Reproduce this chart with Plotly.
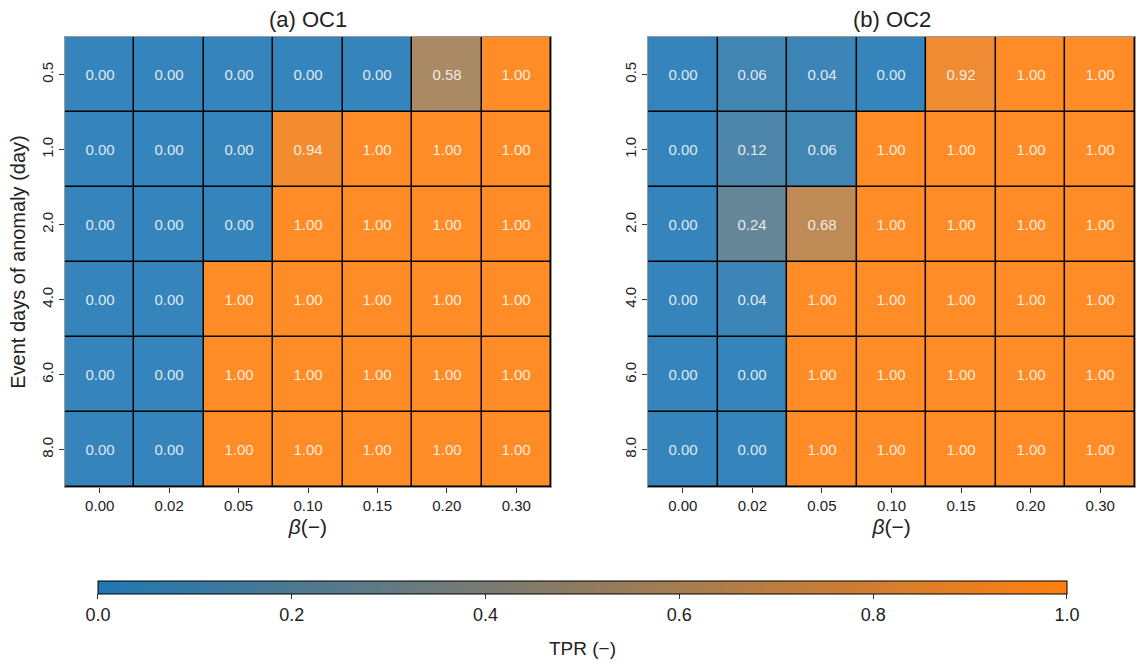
import plotly.graph_objects as go
from plotly.subplots import make_subplots

betas = ["0.00", "0.02", "0.05", "0.10", "0.15", "0.20", "0.30"]
days = ["0.5", "1.0", "2.0", "4.0", "6.0", "8.0"]

tpr_oc1 = [
    [0.00, 0.00, 0.00, 0.00, 0.00, 0.58, 1.00],
    [0.00, 0.00, 0.00, 0.94, 1.00, 1.00, 1.00],
    [0.00, 0.00, 0.00, 1.00, 1.00, 1.00, 1.00],
    [0.00, 0.00, 1.00, 1.00, 1.00, 1.00, 1.00],
    [0.00, 0.00, 1.00, 1.00, 1.00, 1.00, 1.00],
    [0.00, 0.00, 1.00, 1.00, 1.00, 1.00, 1.00],
]
tpr_oc2 = [
    [0.00, 0.06, 0.04, 0.00, 0.92, 1.00, 1.00],
    [0.00, 0.12, 0.06, 1.00, 1.00, 1.00, 1.00],
    [0.00, 0.24, 0.68, 1.00, 1.00, 1.00, 1.00],
    [0.00, 0.04, 1.00, 1.00, 1.00, 1.00, 1.00],
    [0.00, 0.00, 1.00, 1.00, 1.00, 1.00, 1.00],
    [0.00, 0.00, 1.00, 1.00, 1.00, 1.00, 1.00],
]

BLUE = (31, 119, 180)
ORANGE = (255, 127, 14)
ALPHA = 0.9


def blend(c, a=ALPHA):
    return "rgb(%d,%d,%d)" % tuple(round(a * v + (1 - a) * 255) for v in c)


cell_scale = [[0, blend(BLUE)], [1, blend(ORANGE)]]
bar_scale = [[0, "rgb(%d,%d,%d)" % BLUE], [1, "rgb(%d,%d,%d)" % ORANGE]]

FONT = "Liberation Sans, Arial, Helvetica, sans-serif"

fig = make_subplots(rows=1, cols=2, horizontal_spacing=0.0907,
                    subplot_titles=("(a) OC1", "(b) OC2"))

for i, z in enumerate([tpr_oc1, tpr_oc2]):
    fig.add_trace(go.Heatmap(
        z=z, x=betas, y=days, zmin=0, zmax=1, colorscale=cell_scale,
        showscale=False, xgap=1.5, ygap=1.5,
        texttemplate="%{z:.2f}",
        textfont=dict(size=15, color="rgba(255,255,255,0.85)", family=FONT),
        hoverinfo="skip"), row=1, col=i + 1)

fig.add_trace(go.Scatter(
    x=[None], y=[None], mode="markers", showlegend=False,
    marker=dict(color=[0], cmin=0, cmax=1, colorscale=bar_scale, showscale=True,
                colorbar=dict(
                    orientation="h", x=0.4836, xanchor="center",
                    y=-0.209, yanchor="top", len=969, lenmode="pixels",
                    thickness=13, xpad=0, ypad=0,
                    outlinecolor="black", outlinewidth=1,
                    tickvals=[0, 0.2, 0.4, 0.6, 0.8, 1.0],
                    ticktext=["0.0", "0.2", "0.4", "0.6", "0.8", "1.0"],
                    ticks="outside", ticklen=5, tickcolor="#333",
                    tickfont=dict(size=18, family=FONT, color="#222")))),
    row=1, col=1)

fig.add_annotation(text="TPR (−)", xref="paper", yref="paper",
                   x=0.4836, y=-0.358, xanchor="center", yanchor="middle",
                   showarrow=False, font=dict(size=19, family=FONT, color="#222"))

for c in (1, 2):
    fig.update_xaxes(row=1, col=c, type="category", showgrid=False, zeroline=False,
                     ticks="outside", ticklen=5, tickcolor="#333",
                     showline=True, linecolor="#999", linewidth=1, mirror=True,
                     tickfont=dict(size=15, family=FONT, color="#222"),
                     title=dict(text="<i>β</i>(−)", standoff=6,
                                font=dict(size=21, family=FONT, color="#222")))
    fig.update_yaxes(row=1, col=c, type="category", autorange="reversed",
                     showgrid=False, zeroline=False,
                     ticks="outside", ticklen=5, tickcolor="#333", tickangle=-90,
                     showline=True, linecolor="#999", linewidth=1, mirror=True,
                     tickfont=dict(size=15, family=FONT, color="#222"))

fig.update_yaxes(row=1, col=1,
                 title=dict(text="Event days of anomaly (day)", standoff=8,
                            font=dict(size=20, family=FONT, color="#222")))

fig.update_layout(
    width=1145, height=669,
    margin=dict(l=65, r=10, t=37, b=182),
    plot_bgcolor="black", paper_bgcolor="white",
    font=dict(family=FONT, color="#222"),
)
fig.update_xaxes(domain=[0, 0.4542], row=1, col=1)
fig.update_xaxes(domain=[0.5449, 1.0], row=1, col=2)
for ann in fig.layout.annotations:
    if ann.text in ("(a) OC1", "(b) OC2"):
        ann.font = dict(size=22, family=FONT, color="#222")
        ann.yshift = 3

fig.write_html("out.html")
